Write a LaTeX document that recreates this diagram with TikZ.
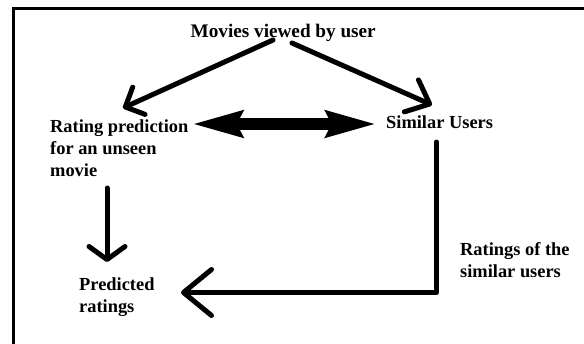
\documentclass[tikz,border=0pt]{standalone}
\usepackage{fontspec}
\setmainfont{Liberation Serif}
\usetikzlibrary{arrows.meta}
\tikzset{
  lbl/.style={font=\bfseries\fontsize{18.4}{22}\selectfont, inner sep=0pt, align=left, text=black},
  biglbl/.style={lbl, font=\bfseries\fontsize{19.2}{22}\selectfont},
  frame/.style={line width=2.6pt},
  conn/.style={line width=5pt, line cap=round, line join=round},
  dbl/.style={line width=12pt, {Stealth[length=50pt,width=25pt,inset=5pt]}-{Stealth[length=50pt,width=25pt,inset=5pt]}},
}
\begin{document}
\begin{tikzpicture}[x=1pt,y=-1pt]
\useasboundingbox (0,0) rectangle (584,343);
% frame
\draw[frame] (13.3,350) -- (13.3,8.5) -- (600,8.5);
% texts
\node[biglbl, anchor=base west] (movies) at (190.5,37) {Movies viewed by user};
\node[lbl, anchor=base west] (similar) at (386,128) {Similar Users};
\node[lbl, anchor=north west] (rating) at (50,119.6) {Rating prediction\\for an unseen\\movie};
\node[lbl, anchor=north west] (pred) at (79,277.4) {Predicted\\ratings};
\node[lbl, anchor=north west] (simr) at (460,242.4) {Ratings of the\\similar users};
% connector end points
\coordinate (mL) at (273,40);
\coordinate (mR) at (292,43);
\coordinate (rTop) at (123,108);
\coordinate (sTop) at (432,105);
\coordinate (dL) at (191.5,124);
\coordinate (dR) at (377,124);
\coordinate (rBot) at (107,188);
\coordinate (pTop) at (107,262);
\coordinate (sBot) at (436.5,142);
\coordinate (corner) at (436.5,292.5);
\coordinate (pRight) at (181,292.5);
% connectors
\draw[conn, -{Straight Barb[length=15pt,width=30pt,round]}] (mL) -- (rTop);
\draw[conn, -{Straight Barb[length=20pt,width=35pt,round]}] (mR) -- (sTop);
\draw[dbl] (dL) -- (dR);
\draw[conn, -{Straight Barb[length=13pt,width=36pt,round]}] (rBot) -- (pTop);
\draw[conn, -{Straight Barb[length=28pt,width=46pt,round]}] (sBot) -- (corner) -- (pRight);
\end{tikzpicture}
\end{document}
